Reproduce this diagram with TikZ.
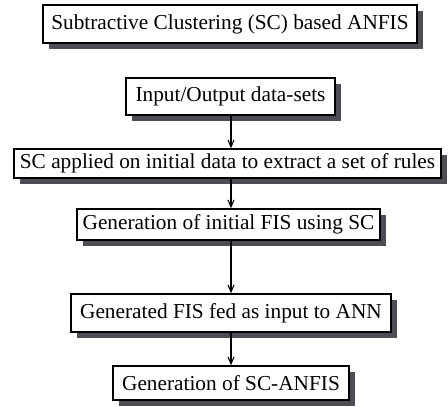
\documentclass[tikz,border=0pt]{standalone}
\usepackage{fontspec}
\setmainfont{Liberation Serif}
\usetikzlibrary{arrows.meta}
\definecolor{shadowc}{RGB}{78,76,84}
\begin{document}
\begin{tikzpicture}[x=1pt,y=1pt,
  box/.style={draw=black, line width=1.4pt, fill=white, inner sep=0pt,
    font=\fontsize{21.3}{24}\selectfont},
  arr/.style={line width=1.3pt, -{Straight Barb[length=7pt,width=6pt,line width=1.1pt]}}]
\useasboundingbox (0,0) rectangle (448,-407);
\coordinate (axis) at (231,0);
% shadows
\fill[shadowc] (48.5,-10.5) rectangle (422.5,-48.5);
\fill[shadowc] (131.5,-83.5) rectangle (340.5,-120.5);
\fill[shadowc] (19.5,-154.5) rectangle (446.5,-183.5);
\fill[shadowc] (82.5,-214.5) rectangle (385.5,-245.5);
\fill[shadowc] (76.5,-299.5) rectangle (396.5,-337.5);
\fill[shadowc] (118.5,-371.5) rectangle (354.5,-405.5);
% boxes
\node[box, minimum width=374pt, minimum height=38pt] (t) at (230,-24) {Subtractive Clustering (SC) based ANFIS};
\node[box, minimum width=209pt, minimum height=37pt] (a) at (230.5,-96.5) {Input/Output data-sets};
\node[box, minimum width=427pt, minimum height=29pt] (b) at (227.5,-163.5) {SC applied on initial data to extract a set of rules};
\node[box, minimum width=303pt, minimum height=31pt] (c) at (228.5,-224.5) {Generation of initial FIS using SC};
\node[box, minimum width=320pt, minimum height=38pt] (d) at (231,-313) {Generated FIS fed as input to ANN};
\node[box, minimum width=236pt, minimum height=34pt] (e) at (231,-383) {Generation of SC-ANFIS};
\draw[arr] (a.south -| axis) -- (b.north -| axis);
\draw[arr] (b.south -| axis) -- (c.north -| axis);
\draw[arr] (c.south -| axis) -- (d.north -| axis);
\draw[arr] (d.south -| axis) -- (e.north -| axis);
\end{tikzpicture}
\end{document}
